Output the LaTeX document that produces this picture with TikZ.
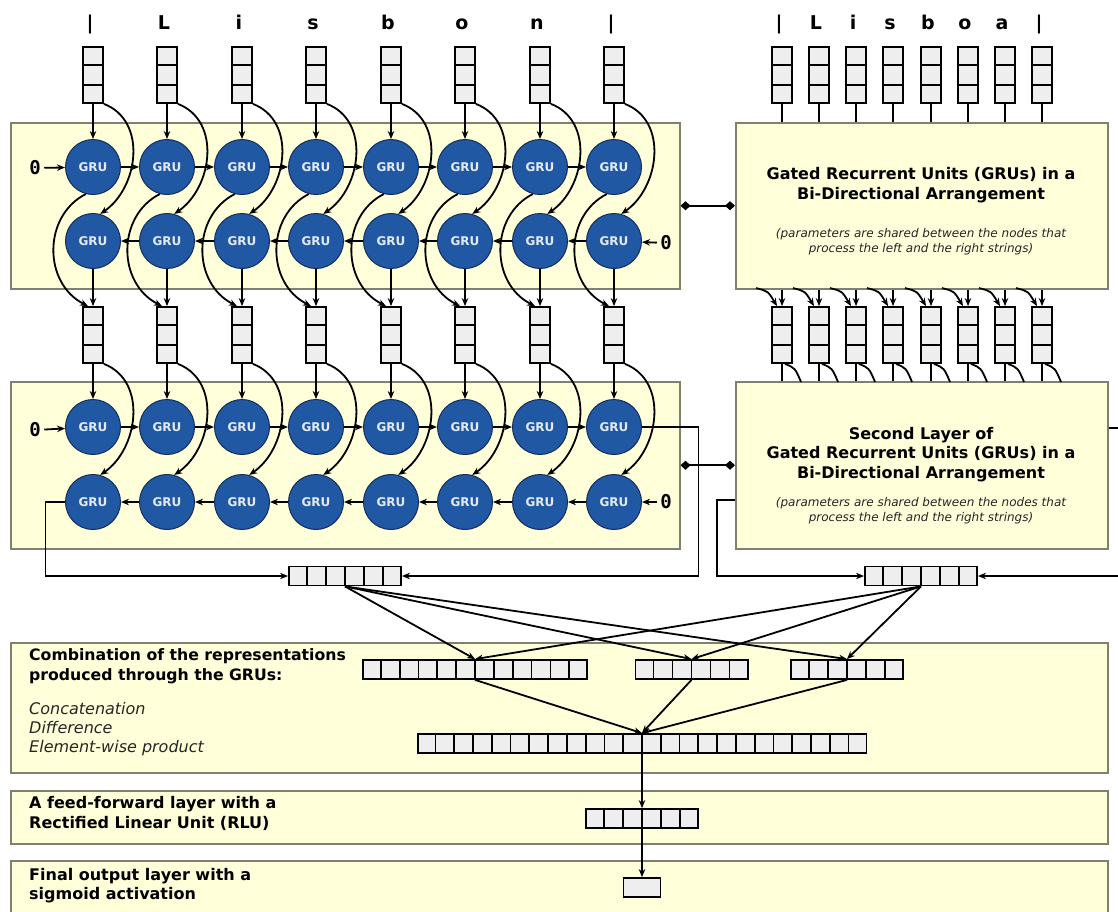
\documentclass[tikz,border=0pt]{standalone}
\usepackage{fontspec}
\setmainfont{DejaVu Sans}
\setmonofont{DejaVu Sans Mono}
\usetikzlibrary{arrows.meta,calc}

\definecolor{boxfill}{RGB}{255,255,217}
\definecolor{boxline}{RGB}{128,128,112}
\definecolor{grufill}{RGB}{33,88,163}
\definecolor{gruline}{RGB}{20,45,90}
\definecolor{cellfill}{RGB}{238,238,238}

\tikzset{
  >={Stealth[length=8pt,width=6.5pt]},
  panel/.style={draw=boxline, fill=boxfill, line width=1.5pt, inner sep=0pt},
  gru/.style={circle, draw=gruline, fill=grufill, line width=1pt, minimum size=55pt, inner sep=0pt,
    text=white!88!grufill, font=\fontsize{12}{12}\selectfont\bfseries},
  cellbox/.style={draw=black, fill=cellfill, line width=1.8pt, inner sep=0pt},
  link/.style={line width=1.8pt},
  zero/.style={font=\fontsize{19}{20}\selectfont\ttfamily\bfseries},
  letter/.style={font=\fontsize{19}{20}\selectfont\bfseries, anchor=base},
  head/.style={font=\fontsize{16}{19.5}\selectfont\bfseries, align=center, inner sep=0pt},
  remark/.style={font=\fontsize{12}{15}\selectfont\itshape, align=center, text=black!85, inner sep=0pt},
  share/.style={line width=1.8pt, {Diamond[length=10pt,width=9pt]}-{Diamond[length=10pt,width=9pt]}},
}

\newcommand{\hvec}[4]{% name, x, y, cells
  \node[cellbox, minimum width=#4*18.7pt, minimum height=19pt] (#1) at (#2,#3) {};
  \pgfmathtruncatemacro{\cellsm}{#4-1}
  \foreach \k in {1,...,\cellsm}
    \draw[line width=1.8pt] ($(#1.north west)!\k/#4!(#1.north east)$) -- ($(#1.south west)!\k/#4!(#1.south east)$);
}
\newcommand{\vvec}[3]{% name, x, y
  \node[cellbox, minimum width=20pt, minimum height=56pt] (#1) at (#2,#3) {};
  \draw[line width=1.8pt] ($(#1.north west)!1/3!(#1.south west)$) -- ($(#1.north east)!1/3!(#1.south east)$);
  \draw[line width=1.8pt] ($(#1.north west)!2/3!(#1.south west)$) -- ($(#1.north east)!2/3!(#1.south east)$);
}

\begin{document}
\begin{tikzpicture}[x=1pt,y=-1pt]
\useasboundingbox (0,0) rectangle (1118,911);
\clip (0,0) rectangle (1118,911);
\fill[white] (0,0) rectangle (1118,911);

\node[panel, anchor=north west, minimum width=669pt, minimum height=166pt] (layerA) at (10,122) {};
\node[panel, anchor=north west, minimum width=669pt, minimum height=167pt] (layerB) at (10,381) {};
\node[panel, anchor=north west, minimum width=372pt, minimum height=166pt] (shareA) at (735,122) {};
\node[panel, anchor=north west, minimum width=372pt, minimum height=167pt] (shareB) at (735,381) {};
\node[panel, anchor=north west, minimum width=1097pt, minimum height=130pt] (combine) at (10,642) {};
\node[panel, anchor=north west, minimum width=1097pt, minimum height=53pt] (ffwd) at (10,790) {};
\node[panel, anchor=north west, minimum width=1097pt, minimum height=70pt] (final) at (10,860) {};

\foreach \ch [count=\i] in {|,L,i,s,b,o,n,|} {
  \pgfmathtruncatemacro{\cx}{93+round((\i-1)*74.43)}
  \node[letter] (ltr\i) at (\cx-3,29) {\ch};
  \vvec{in\i}{\cx}{75}
  \node[gru] (a\i) at (\cx,167) {GRU};
  \node[gru] (b\i) at (\cx,241) {GRU};
  \vvec{mid\i}{\cx}{335}
  \node[gru] (c\i) at (\cx,427) {GRU};
  \node[gru] (d\i) at (\cx,502) {GRU};
  \draw[link,->] (in\i.south) -- (a\i.north);
  \draw[link,->] (in\i.south east) .. controls +(44,17) and +(38,-26) .. (b\i.75);
  \draw[link,->] (a\i.255) .. controls +(-43,22) and +(-45,-23) .. ($(mid\i.north)+(-5,0)$);
  \draw[link,->] (b\i.south) -- (mid\i.north);
  \draw[link,->] (mid\i.south) -- (c\i.north);
  \draw[link,->] (mid\i.south east) .. controls +(44,17) and +(38,-26) .. (d\i.75);
}
\foreach \i [evaluate=\i as \j using int(\i+1)] in {1,...,7} {
  \draw[link,->] (a\i) -- (a\j);
  \draw[link,->] (b\j) -- (b\i);
  \draw[link,->] (c\i) -- (c\j);
  \draw[link,->] (d\j) -- (d\i);
}
\node[zero] (z1) at (35,168) {0};
\node[zero] (z2) at (666,243) {0};
\node[zero] (z3) at (35,430) {0};
\node[zero] (z4) at (666,502) {0};
\draw[link,->] (z1) -- (a1);
\draw[link,->] (z2) -- (b8);
\draw[link,->] (z3) -- (c1);
\draw[link,->] (z4) -- (d8);

\foreach \ch [count=\j] in {|,L,i,s,b,o,a,|} {
  \pgfmathtruncatemacro{\cx}{782+round((\j-1)*37.14)}
  \node[letter] (rltr\j) at (\cx-3,29) {\ch};
  \vvec{rin\j}{\cx}{75}
  \vvec{rmid\j}{\cx}{335}
  \draw[link] (rin\j.south) -- (rin\j.south |- shareA.north);
  \draw[link,->] (rmid\j.north |- shareA.south) -- (rmid\j.north);
  \draw[link,->] ($(rmid\j.north)+(-26,-18)$) .. controls +(12,3) .. ($(rmid\j.north)+(-5,0)$);
  \draw[link] (rmid\j.south) -- (rmid\j.south |- shareB.north);
  \draw[link] ($(rmid\j.south)+(3,0)$) .. controls +(10,4) .. ($(rmid\j.south)+(19,18)$);
}

\node[head] (tA) at (921,185) {Gated Recurrent Units (GRUs) in a\\Bi-Directional Arrangement};
\node[remark] (nA) at (921,242) {(parameters are shared between the nodes that\\process the left and the right strings)};
\node[head] (tB) at (921,454.5) {Second Layer of\\Gated Recurrent Units (GRUs) in a\\Bi-Directional Arrangement};
\node[remark] (nB) at (921,511) {(parameters are shared between the nodes that\\process the left and the right strings)};
\draw[share] (layerA.east) -- (shareA.west);
\draw[share] (layerB.east) -- (shareB.west);

\hvec{lcat}{345}{576}{6}
\hvec{rcat}{921}{576}{6}
\draw[link,->] (d1.west) -- ++(-19.5,0) |- (lcat.west);
\draw[link,->] (c8.east) -- ++(56.5,0) |- (lcat.east);
\draw[link,->] ($(shareB.west)+(0,35)$) -- ++(-18,0) |- (rcat.west);
\draw[link,->] ($(shareB.east)+(0,-37)$) -- ++(30,0) |- (rcat.east);

\hvec{cat}{475}{669.5}{12}
\hvec{diff}{691.5}{669.5}{6}
\hvec{prod}{847}{669.5}{6}
\hvec{comb}{642}{743.5}{24}
\hvec{ffn}{642}{818.5}{6}
\node[cellbox, minimum width=37pt, minimum height=19pt] (outp) at (642,887.5) {};
\foreach \s in {lcat,rcat}
  \foreach \t in {cat,diff,prod}
    \draw[link,->] (\s.south) -- (\t.north);
\foreach \t in {cat,diff,prod}
  \draw[link,->] (\t.south) -- (comb.north);
\draw[link,->] (comb.south) -- (ffn.north);
\draw[link,->] (ffn.south) -- (outp.north);

\node[head, anchor=west, align=left, font=\fontsize{15.7}{20}\selectfont\bfseries] (tC) at (29,666) {Combination of the representations\\produced through the GRUs:};
\node[anchor=west, align=left, inner sep=0pt, font=\fontsize{16}{19}\selectfont\itshape, text=black!85] (lC) at (29,729) {Concatenation\\Difference\\Element-wise product};
\node[head, anchor=west, align=left] (tF) at (29,813.5) {A feed-forward layer with a\\Rectified Linear Unit (RLU)};
\node[head, anchor=west, align=left] (tO) at (29,885.5) {Final output layer with a\\sigmoid activation};
\end{tikzpicture}
\end{document}
